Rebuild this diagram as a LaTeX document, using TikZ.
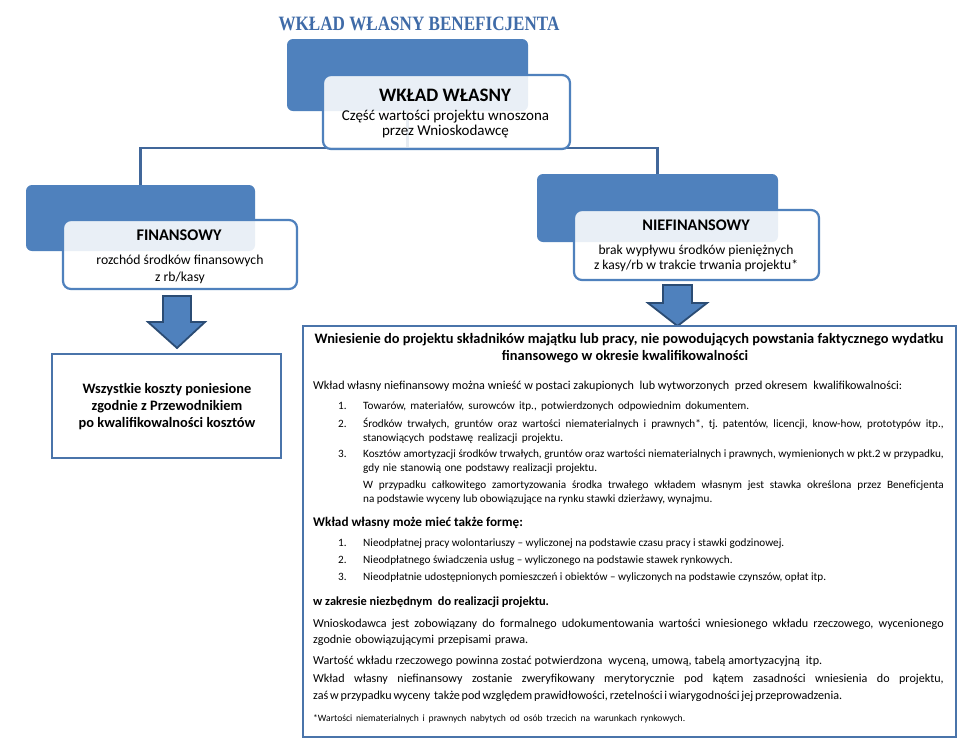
\documentclass[tikz,border=0pt]{standalone}
\usepackage{fontspec}
\setmainfont{Carlito}
\newfontfamily\titlefont{Liberation Serif}
\definecolor{smblue}{HTML}{4F81BD}
\definecolor{lineblue}{HTML}{41679A}
\definecolor{arrowedge}{HTML}{2B4C74}
\definecolor{titleblue}{HTML}{3F6BA8}
\definecolor{boxedge}{HTML}{4A74AA}
\newcommand{\listf}{\fontsize{11.2}{13}\selectfont}
\newcommand{\parf}{\fontsize{12.1}{14}\selectfont}
\newcommand{\just}[2]{\makebox[#1pt][s]{#2}}
\begin{document}
\frenchspacing
\begin{tikzpicture}[x=1pt,y=-1pt,
  bluerect/.style={fill=smblue, rounded corners=6pt, inner sep=0pt},
  whitebox/.style={draw=smblue, line width=2.2pt, fill=white, fill opacity=0.88, draw opacity=1, rounded corners=8pt, inner sep=0pt},
  conn/.style={draw=lineblue, line width=2.4pt},
  textbox/.style={draw=boxedge, line width=2pt, fill=white, inner sep=0pt},
  blockarrow/.style={fill=smblue, draw=arrowedge, line width=1.8pt, line join=miter},
  txt/.style={inner sep=0pt, anchor=base, text=black},
  ltxt/.style={inner sep=0pt, anchor=base west, text=black}]
\useasboundingbox (0,0) rectangle (965,753);
\fill[white] (0,0) rectangle (965,753);

% title
\node[txt, text=titleblue] (title) at (419,30) {\resizebox{281pt}{13.5pt}{\titlefont\bfseries WKŁAD WŁASNY BENEFICJENTA}};

% blue background rectangles
\node[bluerect, minimum width=241pt, minimum height=72pt] (topblue) at (407.5,75) {};
\node[bluerect, minimum width=229pt, minimum height=66pt] (leftblue) at (140.5,218) {};
\node[bluerect, minimum width=241pt, minimum height=68pt] (rightblue) at (657.5,208) {};

% connectors
\draw[conn] (topblue.south) -- ++(0,37) coordinate (junction) -| (leftblue.north);
\draw[conn] (junction) -| (rightblue.north);

% white text boxes
\node[whitebox, minimum width=247pt, minimum height=74pt] (topwhite) at (446.5,112) {};
\node[whitebox, minimum width=234pt, minimum height=69pt] (leftwhite) at (180,254.5) {};
\node[whitebox, minimum width=245pt, minimum height=70pt] (rightwhite) at (696.5,245) {};

% texts in top boxes
\node[txt] (tw1) at (445,101) {\fontsize{19}{22}\selectfont\bfseries WKŁAD WŁASNY};
\node[txt] (tw2) at (445.5,120) {\fontsize{15}{18}\selectfont Część wartości projektu wnoszona};
\node[txt] (tw3) at (445.5,135) {\fontsize{15}{18}\selectfont przez Wnioskodawcę};

\node[txt] (lw1) at (179,240) {\fontsize{16.3}{19}\selectfont\bfseries FINANSOWY};
\node[txt] (lw2) at (180,264) {\fontsize{13.7}{16}\selectfont rozchód środków finansowych};
\node[txt] (lw3) at (180,281) {\fontsize{13.7}{16}\selectfont z rb/kasy};

\node[txt] (rw1) at (696,230) {\fontsize{16.2}{19}\selectfont\bfseries NIEFINANSOWY};
\node[txt] (rw2) at (696,254) {\fontsize{13.6}{16}\selectfont brak wypływu środków pieniężnych};
\node[txt] (rw3) at (696,269) {\fontsize{13.6}{16}\selectfont z kasy/rb w trakcie trwania projektu*};

% block arrows
\draw[blockarrow] (163,296) -- (191,296) -- (191,322) -- (205,322) -- (177,348) -- (148,322) -- (163,322) -- cycle;
\draw[blockarrow] (663,285) -- (692,285) -- (692,303) -- (707,303) -- (677.5,326) -- (648,303) -- (663,303) -- cycle;

% bottom left box
\node[textbox, minimum width=229pt, minimum height=104pt] (leftbottom) at (166.5,406) {};
\node[txt] (lb1) at (167,393) {\fontsize{14.4}{17}\selectfont\bfseries Wszystkie koszty poniesione};
\node[txt] (lb2) at (167,410.5) {\fontsize{14.4}{17}\selectfont\bfseries zgodnie z Przewodnikiem};
\node[txt] (lb3) at (167,427.5) {\fontsize{14.4}{17}\selectfont\bfseries po kwalifikowalności kosztów};

% big right box
\node[textbox, minimum width=653.5pt, minimum height=411pt] (bigbox) at (629.25,531.5) {};
\node[txt] (h1) at (629,343) {\fontsize{14.4}{16}\selectfont\bfseries Wniesienie do projektu składników majątku lub pracy, nie powodujących powstania faktycznego wydatku};
\node[txt] (h2) at (625,360) {\fontsize{14.4}{16}\selectfont\bfseries finansowego w okresie kwalifikowalności};

\node[ltxt] (p1) at (313,389) {\parf\just{589}{Wkład własny niefinansowy można wnieść w postaci zakupionych\ \ lub wytworzonych\ \ przed okresem\ \ kwalifikowalności:}};
\node[ltxt] (n1) at (338,409) {\listf 1.};
\node[ltxt] (i1) at (363,409) {\listf\just{386}{Towarów, materiałów, surowców itp., potwierdzonych odpowiednim dokumentem.}};
\node[ltxt] (n2) at (338,427) {\listf 2.};
\node[ltxt] (i2a) at (363,427) {\listf\just{580.5}{Środków trwałych, gruntów oraz wartości niematerialnych i prawnych*, tj. patentów, licencji, know-how, prototypów itp.,}};
\node[ltxt] (i2b) at (363,441.5) {\listf\just{200}{stanowiących podstawę realizacji projektu.}};
\node[ltxt] (n3) at (338,457.5) {\listf 3.};
\node[ltxt] (i3a) at (363,457.5) {\listf\just{580.5}{Kosztów amortyzacji środków trwałych, gruntów oraz wartości niematerialnych i prawnych, wymienionych w pkt.2 w przypadku,}};
\node[ltxt] (i3b) at (363,471.5) {\listf\just{234}{gdy nie stanowią one podstawy realizacji projektu.}};
\node[ltxt] (i3c) at (363,488) {\listf\just{580.5}{W przypadku całkowitego zamortyzowania środka trwałego wkładem własnym jest stawka określona przez Beneficjenta}};
\node[ltxt] (i3d) at (363,502.5) {\listf na podstawie wyceny lub obowiązujące na rynku stawki dzierżawy, wynajmu.};

\node[ltxt] (p2) at (313,526) {\fontsize{13.2}{15}\selectfont\bfseries Wkład własny może mieć także formę:};
\node[ltxt] (m1) at (338,546.5) {\listf 1.};
\node[ltxt] (j1) at (363,546.5) {\listf Nieodpłatnej pracy wolontariuszy – wyliczonej na podstawie czasu pracy i stawki godzinowej.};
\node[ltxt] (m2) at (338,563.5) {\listf 2.};
\node[ltxt] (j2) at (363,563.5) {\listf Nieodpłatnego świadczenia usług – wyliczonego na podstawie stawek rynkowych.};
\node[ltxt] (m3) at (338,580.5) {\listf 3.};
\node[ltxt] (j3) at (363,580.5) {\listf Nieodpłatnie udostępnionych pomieszczeń i obiektów – wyliczonych na podstawie czynszów, opłat itp.};

\node[ltxt] (p3) at (313,605) {\fontsize{12.4}{14}\selectfont\bfseries w zakresie niezbędnym\ \ do realizacji projektu.};
\node[ltxt] (p4a) at (313,627) {\parf\just{630.5}{Wnioskodawca jest zobowiązany do formalnego udokumentowania wartości wniesionego wkładu rzeczowego, wycenionego}};
\node[ltxt] (p4b) at (313,643.5) {\parf\just{215}{zgodnie obowiązującymi przepisami prawa.}};
\node[ltxt] (p5) at (313,664.5) {\parf\just{509}{Wartość wkładu rzeczowego powinna zostać potwierdzona\ \ wyceną, umową, tabelą amortyzacyjną\ \ itp.}};
\node[ltxt] (p6a) at (313,682.5) {\parf\just{630.5}{Wkład własny niefinansowy zostanie zweryfikowany merytorycznie pod kątem zasadności wniesienia do projektu,}};
\node[ltxt] (p6b) at (313,699.5) {\parf\just{529}{zaś w przypadku wyceny\ \ także pod względem prawidłowości, rzetelności i wiarygodności jej przeprowadzenia.}};
\node[ltxt] (fn) at (313,721) {\fontsize{9.6}{11}\selectfont\just{372}{*Wartości niematerialnych i prawnych nabytych od osób trzecich na warunkach rynkowych.}};
\end{tikzpicture}
\end{document}
